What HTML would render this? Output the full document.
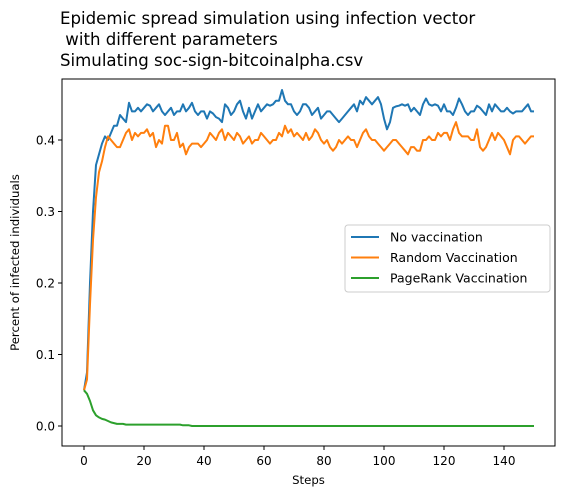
<!DOCTYPE html>
<html><head><meta charset="utf-8">
<style>
html,body{margin:0;padding:0;background:#fff;}
body{width:570px;height:496px;overflow:hidden;font-family:"DejaVu Sans","Liberation Sans",sans-serif;}
svg text{font-family:"DejaVu Sans","Liberation Sans",sans-serif;fill:#000;}
</style></head>
<body>
<svg id="chart" width="570" height="496" xmlns="http://www.w3.org/2000/svg">
<g>
<text x="60" y="24" font-size="16.6">Epidemic spread simulation using infection vector</text>
<text x="60" y="45" font-size="16.6">&#160;with different parameters</text>
<text x="60" y="66" font-size="16.6">Simulating soc-sign-bitcoinalpha.csv</text>
</g>
<g id="plot"></g>
</svg>
<script>
const noVacc=[.05,.075,.2,.3,.365,.38,.395,.405,.40,.41,.42,.42,.435,.43,.425,.452,.44,.44,.445,.44,
.445,.45,.448,.44,.445,.45,.44,.435,.44,.445,.435,.44,.44,.45,.44,.445,.452,.44,.435,.44,
.44,.43,.44,.437,.432,.43,.425,.45,.445,.435,.44,.45,.455,.44,.43,.445,.43,.44,.45,.44,
.445,.45,.448,.45,.455,.455,.47,.455,.45,.45,.44,.435,.44,.45,.45,.445,.435,.44,.445,.43,
.435,.44,.44,.435,.43,.425,.43,.435,.44,.445,.45,.44,.455,.45,.46,.455,.45,.455,.46,.45,
.43,.415,.425,.445,.447,.448,.45,.448,.45,.44,.445,.44,.435,.45,.458,.45,.448,.45,.448,.44,
.45,.44,.44,.435,.445,.458,.45,.44,.435,.44,.44,.448,.445,.44,.435,.45,.44,.45,.445,.44,
.44,.445,.44,.437,.44,.44,.44,.445,.45,.44,.44];
const randomVacc=[.05,.065,.17,.26,.32,.355,.37,.39,.405,.40,.395,.39,.39,.40,.41,.415,.40,.41,.405,.41,
.41,.415,.405,.41,.39,.40,.395,.42,.42,.40,.40,.41,.39,.395,.38,.39,.395,.395,.395,.39,
.395,.40,.41,.405,.40,.41,.415,.40,.41,.405,.40,.41,.405,.395,.40,.405,.395,.40,.40,.41,
.405,.40,.395,.40,.40,.41,.405,.42,.41,.415,.405,.41,.405,.40,.41,.40,.405,.415,.41,.40,
.395,.40,.39,.385,.39,.40,.395,.40,.405,.40,.40,.39,.40,.41,.415,.405,.40,.40,.395,.39,
.385,.39,.395,.40,.40,.395,.39,.385,.38,.39,.39,.385,.385,.40,.40,.405,.40,.40,.41,.405,
.41,.41,.40,.415,.425,.41,.405,.405,.405,.40,.40,.415,.39,.385,.39,.40,.41,.40,.41,.405,
.40,.39,.38,.40,.405,.405,.40,.395,.40,.405,.405];
const pageRankVacc=[.05,.045,.035,.022,.015,.012,.01,.009,.007,.005,.004,.003,.003,.003,.002,.002,.002,.002,.002,.002,
.002,.002,.002,.002,.002,.002,.002,.002,.002,.002,.002,.002,.002,.001,.001,.001,0,0,0,0,
0,0,0,0,0,0,0,0,0,0,0,0,0,0,0,0,0,0,0,0,
0,0,0,0,0,0,0,0,0,0,0,0,0,0,0,0,0,0,0,0,
0,0,0,0,0,0,0,0,0,0,0,0,0,0,0,0,0,0,0,0,
0,0,0,0,0,0,0,0,0,0,0,0,0,0,0,0,0,0,0,0,
0,0,0,0,0,0,0,0,0,0,0,0,0,0,0,0,0,0,0,0,
0,0,0,0,0,0,0,0,0,0,0];
const seriesNames=["No vaccination","Random Vaccination","PageRank Vaccination"];
const xTicks=[0,20,40,60,80,100,120,140];
const yTicks=[0.0,0.1,0.2,0.3,0.4];

const L=62,R=555,T=79,B=446;
const xs=v=>84+v*3.0;
const ys=v=>426-v*715;
const NS="http://www.w3.org/2000/svg";
const g=document.getElementById('plot');
function mk(tag,attrs,parent){const e=document.createElementNS(NS,tag);for(const k in attrs)e.setAttribute(k,attrs[k]);(parent||g).appendChild(e);return e;}

const colors=["#1f77b4","#ff7f0e","#2ca02c"];
[noVacc,randomVacc,pageRankVacc].forEach((arr,i)=>{
  const p=mk('polyline',{points:arr.map((v,j)=>xs(j).toFixed(1)+','+ys(v).toFixed(1)).join(' '),fill:'none',stroke:colors[i],'stroke-width':2,'stroke-linejoin':'round'});
  
  
});

const frame=mk('rect',{x:L,y:T,width:R-L,height:B-T,fill:'none',stroke:'#000','stroke-width':1});



xTicks.forEach(t=>{
  const x=xs(t);
  mk('line',{x1:x,x2:x,y1:B,y2:B+4,stroke:'#000'});
  const tx=mk('text',{x:x,y:B+19,'font-size':12,'text-anchor':'middle'});
  tx.textContent=t;
  
  
});
yTicks.forEach(t=>{
  const y=ys(t);
  mk('line',{x1:L-4,x2:L,y1:y,y2:y,stroke:'#000'});
  const tx=mk('text',{x:L-7,y:y+4.5,'font-size':12,'text-anchor':'end'});
  tx.textContent=t.toFixed(1);
  
  
});
const xl=mk('text',{x:(L+R)/2,y:484,'font-size':11.7,'text-anchor':'middle'});
xl.textContent='Steps';


const yl=mk('text',{x:0,y:0,'font-size':11.7,'text-anchor':'middle',transform:'translate(19,'+((T+B)/2)+') rotate(-90)'});
yl.textContent='Percent of infected individuals';



const lg=mk('g',{});


mk('rect',{x:345,y:225,width:205,height:67,rx:3,fill:'#fff',stroke:'#ccc'},lg);
seriesNames.forEach((n,i)=>{
  const y=237+i*20.5;
  mk('line',{x1:351,x2:379,y1:y,y2:y,stroke:colors[i],'stroke-width':2},lg);
  const t=mk('text',{x:390,y:y+4.5,'font-size':12.5},lg);
  t.textContent=n;
  
  
});
</script>
</body></html>
